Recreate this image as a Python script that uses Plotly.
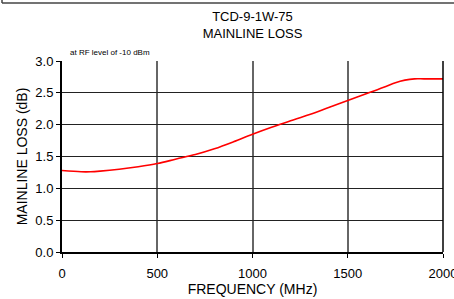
import plotly.graph_objects as go

freq_mhz = [0, 100, 150, 200, 300, 400, 500, 600, 700, 800, 900, 1000, 1100, 1200,
            1300, 1400, 1500, 1600, 1700, 1750, 1800, 1850, 1900, 2000]
loss_db = [1.28, 1.26, 1.26, 1.27, 1.30, 1.34, 1.39, 1.46, 1.53, 1.62, 1.73, 1.85, 1.96,
           2.06, 2.16, 2.27, 2.38, 2.49, 2.60, 2.66, 2.70, 2.72, 2.72, 2.72]
x_ticks = [0, 500, 1000, 1500, 2000]
y_ticks = [0.0, 0.5, 1.0, 1.5, 2.0, 2.5, 3.0]

FONT = "Liberation Sans, Arial, sans-serif"

fig = go.Figure()
fig.add_trace(go.Scatter(x=freq_mhz, y=loss_db, mode="lines",
                         line=dict(color="#ff0000", width=1.6, shape="spline"),
                         showlegend=False, hoverinfo="skip"))

fig.update_layout(
    width=454, height=299,
    margin=dict(l=62, r=11, t=61, b=47, autoexpand=False),
    paper_bgcolor="white", plot_bgcolor="white",
    font=dict(family=FONT, color="black", size=13),
    title=dict(text="TCD-9-1W-75<br>MAINLINE LOSS", x=(62 + 190.5) / 454, xanchor="center",
               y=1 - 21 / 299, yanchor="top", font=dict(size=13, family=FONT)),
)
fig.update_xaxes(range=[0, 2000], tickvals=x_ticks, ticks="outside", ticklen=4,
                 tickcolor="black", showline=True, linecolor="black", linewidth=2,
                 mirror=False, showgrid=True, gridcolor="#666666", gridwidth=1.5,
                 zeroline=False, tickfont=dict(size=13), automargin=False,
                 ticklabeloverflow="allow", ticklabelstandoff=4,
                 title=dict(text="FREQUENCY (MHz)", font=dict(size=14), standoff=2))
fig.update_yaxes(range=[0, 3.0], tickvals=y_ticks, tickformat=".1f", ticks="outside",
                 ticklen=4, tickcolor="black", showline=True, linecolor="black",
                 linewidth=2, showgrid=True, gridcolor="#222222", gridwidth=1,
                 zeroline=False, tickfont=dict(size=13), automargin=False,
                 title=dict(text="MAINLINE LOSS (dB)", font=dict(size=14), standoff=4))

# right border of plot area
fig.add_shape(type="line", xref="paper", yref="paper", x0=1, x1=1, y0=0, y1=1,
              line=dict(color="black", width=1.5))
# frame fragment at top of the picture
fig.add_shape(type="line", xref="paper", yref="paper", x0=(2 - 62) / 381, x1=(454 - 62) / 381,
              y0=(252 - 3) / 191, y1=(252 - 3) / 191, line=dict(color="#444444", width=1.5))
fig.add_shape(type="line", xref="paper", yref="paper", x0=(2 - 62) / 381, x1=(2 - 62) / 381,
              y0=(252 - 3) / 191, y1=(252 + 2) / 191, line=dict(color="#444444", width=1.5))

fig.add_annotation(text="at RF level of -10 dBm", xref="paper", yref="paper",
                   x=(68 - 62) / 381, y=(252 - 52) / 191, xanchor="left", yanchor="middle",
                   showarrow=False, font=dict(size=8, family=FONT))

fig.write_html("out.html", config={"displayModeBar": False},
               post_script="document.body.style.margin='0px';document.body.style.overflow='hidden';")
